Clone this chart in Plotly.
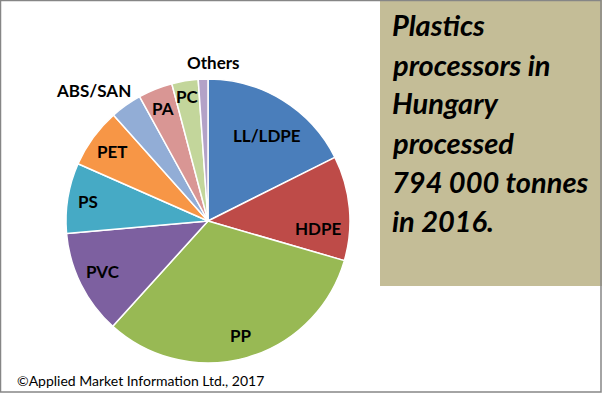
import math
import plotly.graph_objects as go

# ---- data ----
materials = ["LL/LDPE", "HDPE", "PP", "PVC", "PS", "PET", "ABS/SAN", "PA", "PC", "Others"]
shares = [17.6, 11.9, 32.2, 11.9, 8.0, 6.8, 3.6, 3.9, 3.0, 1.1]
colors = ["#4A7EBB", "#BE4B48", "#98B954", "#7D60A0", "#46AAC5",
          "#F79646", "#92ADD6", "#D99694", "#C3D69B", "#B3A2C7"]
box_lines = ["Plastics", "processors in", "Hungary", "processed",
             "794 000 tonnes", "in 2016."]
credit = "©Applied Market Information Ltd., 2017"

# ---- style / layout ----
W, H = 602, 393
CX, CY, R = 208, 221, 142          # pie centre & radius in px
label_rfrac = [0.73, 0.78, 0.84, 0.82, 0.86, 0.83, 1.22, 0.85, 0.89, 1.12]
label_dangle = [3, 9, 0, 1, 0, 0, -6, 0, 0, 4]

fig = go.Figure()
fig.add_trace(go.Pie(
    labels=materials, values=shares, sort=False, direction="clockwise",
    rotation=0, textinfo="none", hoverinfo="label+percent",
    marker=dict(colors=colors, line=dict(color="white", width=1.5)),
    domain=dict(x=[(CX - R) / W, (CX + R) / W],
                y=[(H - CY - R) / H, (H - CY + R) / H]),
    showlegend=False,
))

annotations = []
total = sum(shares)
cum = 0.0
for name, v, f, da in zip(materials, shares, label_rfrac, label_dangle):
    mid = (cum + v / 2) / total * 360 + da
    cum += v
    th = math.radians(mid)
    px = CX + f * R * math.sin(th)
    py = CY - f * R * math.cos(th)
    annotations.append(dict(
        x=px / W, y=1 - py / H, xref="paper", yref="paper", text=name,
        showarrow=False, xanchor="center", yanchor="middle",
        font=dict(family="Lato", size=17, color="black", weight="bold")))

# text box lines
base0, step = 35, 39
for i, line in enumerate(box_lines):
    yb = base0 + i * step
    annotations.append(dict(
        x=390 / W, y=1 - (yb - 10) / H, xref="paper", yref="paper",
        text=f"<b><i>{line}</i></b>", showarrow=False,
        xanchor="left", yanchor="middle", align="left",
        font=dict(family="Lato", size=29, color="black")))

annotations.append(dict(
    x=15 / W, y=1 - 380 / H, xref="paper", yref="paper", text=credit,
    showarrow=False, xanchor="left", yanchor="middle",
    font=dict(family="Lato", size=14, color="black")))

shapes = [
    dict(type="rect", xref="paper", yref="paper", x0=380 / W, x1=1,
         y0=1 - 286 / H, y1=1, fillcolor="#C4BD97", line=dict(width=0),
         layer="below"),
    dict(type="rect", xref="paper", yref="paper", x0=0.5 / W, x1=1 - 1.0 / W,
         y0=1.0 / H, y1=1 - 0.5 / H, line=dict(color="#868686", width=1.5),
         fillcolor="rgba(0,0,0,0)"),
]

fig.update_layout(
    width=W, height=H, margin=dict(l=0, r=0, t=0, b=0),
    paper_bgcolor="white", plot_bgcolor="white",
    annotations=annotations, shapes=shapes,
)
fig.write_html("out.html", config={"displayModeBar": False},
               post_script="document.body.style.margin='0';document.body.style.overflow='hidden';")
